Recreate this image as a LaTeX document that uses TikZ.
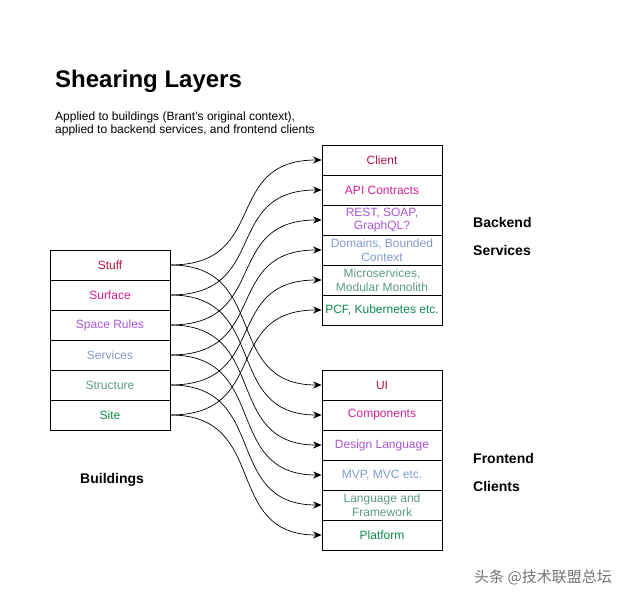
\documentclass[tikz,border=0pt]{standalone}
\usepackage{fontspec}
\setmainfont{Liberation Sans}
\newfontfamily\cjk{Noto Sans CJK SC}
\usepackage{tikz}
\usetikzlibrary{arrows.meta,positioning}
\definecolor{slstuff}{HTML}{B5163F}
\definecolor{slsurface}{HTML}{D21F91}
\definecolor{slspace}{HTML}{AA55D6}
\definecolor{slservices}{HTML}{7F9CCB}
\definecolor{slstructure}{HTML}{5E9B86}
\definecolor{slsite}{HTML}{0E8A4E}

\begin{document}
\begin{tikzpicture}[
    x=1pt, y=-1pt,
    cell/.style={draw, line width=0.8pt, minimum width=120pt, minimum height=30pt, inner sep=0pt,
        align=center, font=\fontsize{12}{13.5}\selectfont},
    heading/.style={anchor=base west, inner sep=0pt, font=\fontsize{14}{16}\selectfont\bfseries},
    link/.style={-{Stealth[length=8.5pt, width=7pt]}, line width=0.7pt},
    curve/.style={to path={.. controls +(100,0) and +(-100,0) .. (\tikztotarget)}}
]
    \useasboundingbox (0,0) rectangle (639,601);

    % title
    \node[anchor=base west, inner sep=0pt, font=\fontsize{24}{28}\selectfont\bfseries] (title) at (55,88) {Shearing Layers};
    \node[anchor=base west, inner sep=0pt, align=left, font=\fontsize{12}{13.5}\selectfont] (subtitle) at (55,134)
        {Applied to buildings (Brant's original context),\\applied to backend services, and frontend clients};

    % buildings
    \node[cell, text=slstuff] (stuff) at (110,265) {Stuff};
    \node[cell, text=slsurface] (surface) at (110,295) {Surface};
    \node[cell, text=slspace] (space) at (110,325) {Space Rules};
    \node[cell, text=slservices] (services) at (110,355) {Services};
    \node[cell, text=slstructure] (structure) at (110,385) {Structure};
    \node[cell, text=slsite] (site) at (110,415) {Site};
    \node[heading] (buildings) at (80,483) {Buildings};

    % backend services
    \node[cell, text=slstuff] (client) at (382,160) {Client};
    \node[cell, text=slsurface] (api) at (382,190) {API Contracts};
    \node[cell, text=slspace] (rest) at (382,220) {REST, SOAP,\\GraphQL?};
    \node[cell, text=slservices] (domains) at (382,250) {Domains, Bounded\\Context};
    \node[cell, text=slstructure] (micro) at (382,280) {Microservices,\\Modular Monolith};
    \node[cell, text=slsite] (pcf) at (382,310) {PCF, Kubernetes etc.};
    \node[heading] (backend) at (473,228) {Backend};
    \node[heading] (bservices) at (473,256) {Services};

    % frontend clients
    \node[cell, text=slstuff] (ui) at (382,385) {UI};
    \node[cell, text=slsurface] (components) at (382,415) {Components};
    \node[cell, text=slspace] (design) at (382,445) {Design Language};
    \node[cell, text=slservices] (mvp) at (382,475) {MVP, MVC etc.};
    \node[cell, text=slstructure] (language) at (382,505) {Language and\\Framework};
    \node[cell, text=slsite] (platform) at (382,535) {Platform};
    \node[heading] (frontend) at (473,463) {Frontend};
    \node[heading] (clients) at (473,491) {Clients};

    % connectors to backend
    \draw[link] (stuff.east) to[curve] (client.west);
    \draw[link] (surface.east) to[curve] (api.west);
    \draw[link] (space.east) to[curve] (rest.west);
    \draw[link] (services.east) to[curve] (domains.west);
    \draw[link] (structure.east) to[curve] (micro.west);
    \draw[link] (site.east) to[curve] (pcf.west);

    % connectors to frontend
    \draw[link] (stuff.east) to[curve] (ui.west);
    \draw[link] (surface.east) to[curve] (components.west);
    \draw[link] (space.east) to[curve] (design.west);
    \draw[link] (services.east) to[curve] (mvp.west);
    \draw[link] (structure.east) to[curve] (language.west);
    \draw[link] (site.east) to[curve] (platform.west);

    % watermark
    \node[anchor=base west, inner sep=0pt, text=black!55, font=\cjk\fontsize{15}{17}\selectfont] (mark) at (474,582) {头条 @技术联盟总坛};
\end{tikzpicture}
\end{document}
